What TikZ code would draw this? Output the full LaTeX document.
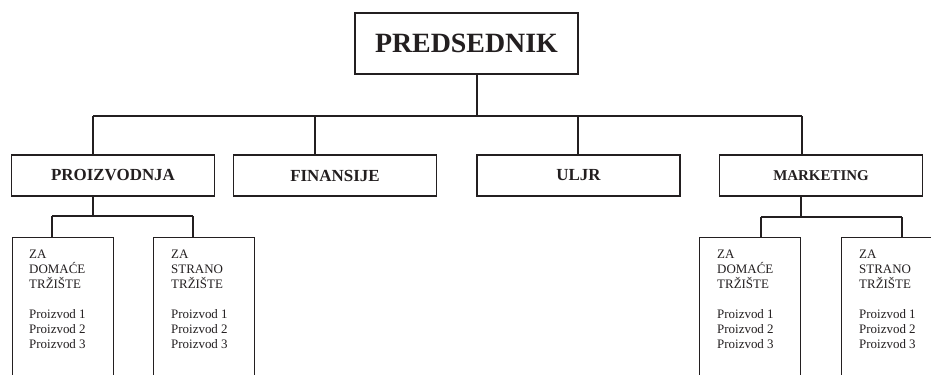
\documentclass[tikz,border=0pt]{standalone}
\usepackage{fontspec}
\setmainfont{Liberation Serif}
\definecolor{ink}{HTML}{231F20}
\begin{document}
\begin{tikzpicture}[x=1bp,y=-1bp,
  ln/.style={line width=1.3bp, draw=ink},
  topbox/.style={ln, minimum width=223bp, minimum height=61bp, inner sep=0pt, text=ink,
    font=\bfseries\fontsize{28}{30}\selectfont},
  midbox/.style={ln, minimum width=203bp, minimum height=41bp, inner sep=0pt, text=ink,
    font=\bfseries\fontsize{17}{20}\selectfont},
  smallmid/.style={midbox, font=\bfseries\fontsize{15}{18}\selectfont},
  subbox/.style={ln, anchor=north west, minimum width=101bp, minimum height=160bp, inner sep=0pt},
  subtext/.style={anchor=north west, align=left, inner sep=0pt, text=ink,
    font=\fontsize{13}{15}\selectfont}
]
\useasboundingbox (0,0) rectangle (931,374);
\clip (0,0) rectangle (931,374);
\fill[white] (0,0) rectangle (931,374);

\node[topbox] (pres) at (466.5,43.5) {PREDSEDNIK};

\node[midbox] (proiz) at (113,175.5) {PROIZVODNJA};
\node[midbox] (fin) at (335,175.5) {FINANSIJE};
\node[midbox] (uljr) at (578.5,175.5) {ULJR};
\node[smallmid] (mark) at (821,175.5) {MARKETING};

% junctions level 1
\coordinate (jp) at (477,116);
\coordinate (j1) at (93,116);
\coordinate (j2) at (315,116);
\coordinate (j3) at (578,116);
\coordinate (j4) at (802,116);
\draw[ln] (jp |- pres.south) -- (jp);
\draw[ln] (j1) -- (j4);
\draw[ln] (j1) -- (j1 |- proiz.north);
\draw[ln] (j2) -- (j2 |- fin.north);
\draw[ln] (j3) -- (j3 |- uljr.north);
\draw[ln] (j4) -- (j4 |- mark.north);

% sub boxes
\node[subbox] (pd) at (12,237) {};
\node[subbox] (ps) at (153,237) {};
\node[subbox] (md) at (699,237) {};
\node[subbox] (ms) at (841,237) {};

\node[subtext] (pdt) at (29,250) {ZA\\DOMAĆE\\TRŽIŠTE\\[15bp]Proizvod 1\\Proizvod 2\\Proizvod 3};
\node[subtext] (pst) at (171,250) {ZA\\STRANO\\TRŽIŠTE\\[15bp]Proizvod 1\\Proizvod 2\\Proizvod 3};
\node[subtext] (mdt) at (717,250) {ZA\\DOMAĆE\\TRŽIŠTE\\[15bp]Proizvod 1\\Proizvod 2\\Proizvod 3};
\node[subtext] (mst) at (859,250) {ZA\\STRANO\\TRŽIŠTE\\[15bp]Proizvod 1\\Proizvod 2\\Proizvod 3};

% sub connectors
\coordinate (pj) at (93,216);
\coordinate (pjl) at (52,216);
\coordinate (pjr) at (193,216);
\draw[ln] (pj |- proiz.south) -- (pj);
\draw[ln] (pjl) -- (pjr);
\draw[ln] (pjl) -- (pjl |- pd.north);
\draw[ln] (pjr) -- (pjr |- ps.north);

\coordinate (mj) at (801,217);
\coordinate (mjl) at (761,217);
\coordinate (mjr) at (902,217);
\draw[ln] (mj |- mark.south) -- (mj);
\draw[ln] (mjl) -- (mjr);
\draw[ln] (mjl) -- (mjl |- md.north);
\draw[ln] (mjr) -- (mjr |- ms.north);
\end{tikzpicture}
\end{document}
